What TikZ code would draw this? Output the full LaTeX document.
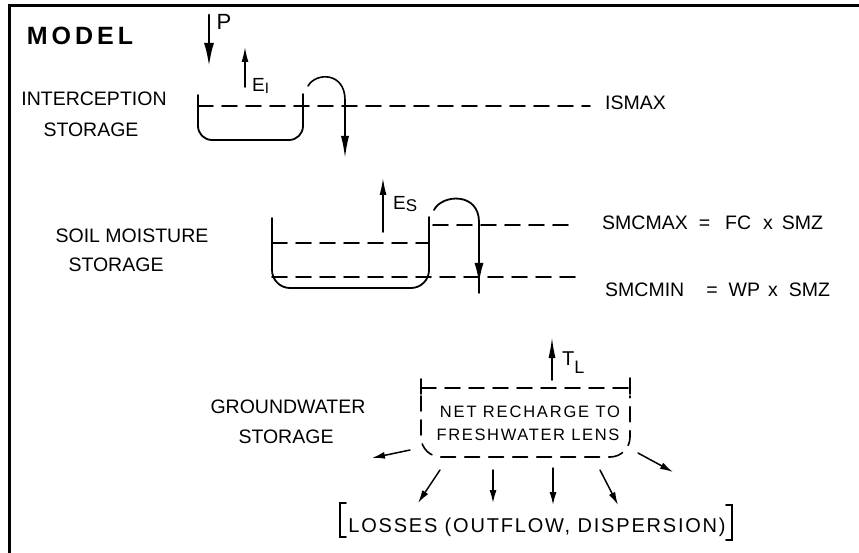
\documentclass[tikz,border=0pt]{standalone}
\usepackage{fontspec}
\setmainfont{Liberation Sans}
\usetikzlibrary{arrows.meta}

\tikzset{
  wall/.style={line width=1.8pt},
  level/.style={line width=1.6pt, dash pattern=on 15pt off 9pt},
  flow/.style={line width=1.6pt, -{Latex[length=15pt,width=7pt]}},
  loss/.style={line width=1.5pt, -{Latex[length=13pt,width=7pt]}},
  lab/.style={font=\fontsize{19.5}{22}\selectfont, inner sep=0pt, anchor=base},
  note/.style={lab, anchor=base west}
}

\begin{document}
\begin{tikzpicture}[x=1pt, y=-1pt, line cap=round, line join=round]
\useasboundingbox (0,0) rectangle (859,553);

% frame, top and left only
\draw[line width=3pt, line cap=butt, line join=miter] (859,6) -- (9.5,6) -- (9.5,553);

\node[lab, font=\fontsize{25}{28}\selectfont\bfseries\addfontfeature{LetterSpace=16}] (model) at (80,45) {MODEL};

% === Interception storage ===
\node[lab] (intA) at (94,106) {INTERCEPTION};
\node[lab] (intB) at (91,137) {STORAGE};

\coordinate (pIn) at (209,15);
\coordinate (pOut) at (209,67);
\draw[line width=2.8pt, -{Latex[length=24pt,width=10pt]}] (pIn) -- (pOut);
\node[lab, font=\fontsize{22}{24}\selectfont] (plab) at (224,30) {P};

\coordinate (eiFrom) at (245,87);
\coordinate (eiTo) at (245,47);
\draw[flow] (eiFrom) -- (eiTo);
\node[note, font=\fontsize{19}{22}\selectfont] (eilab) at (252,92) {E\raisebox{-2pt}{\fontsize{15}{15}\selectfont\rmfamily I}};

\draw[wall, rounded corners=14pt] (198,95) -- (198,140) -- (303,140) -- (303,94);
\draw[level] (198,106) -- (590,106);
\node[note] (ismax) at (605,110) {ISMAX};

% spill over the rim
\coordinate (spillA) at (308,86);
\coordinate (spillB) at (345,158);
\draw[flow, -{Latex[length=22pt,width=8pt]}] (spillA) .. controls (316,72) and (345,72) .. (345,100) -- (spillB);

% === Soil moisture storage ===
\node[lab] (soilA) at (132,243) {SOIL MOISTURE};
\node[lab] (soilB) at (116,272) {STORAGE};

\draw[wall, rounded corners=18pt] (272,218) -- (272,288) -- (429,288) -- (429,217);
\draw[level] (272,243) -- (429,243);
\draw[level] (433,225) -- (575,225);
\draw[level] (272,277) -- (582,277);

\coordinate (esFrom) at (383,232);
\coordinate (esTo) at (383,178);
\draw[flow, -{Latex[length=17pt,width=7pt]}] (esFrom) -- (esTo);
\node[note, font=\fontsize{19}{22}\selectfont] (eslab) at (393,210) {E\raisebox{-2pt}{\fontsize{17}{17}\selectfont S}};

\coordinate (dripA) at (434,210);
\coordinate (dripB) at (479,293);
\draw[wall] (dripA) .. controls (442,194) and (479,192) .. (479,222) -- (dripB);
\draw[wall, -{Latex[length=20pt,width=9pt]}] (479,250) -- (479,283);

\node[note] (smcmax) at (602,230)
  {SMCMAX\hspace{11pt}=\hspace{15pt}FC\hspace{12pt}x\hspace{9pt}SMZ};
\node[note] (smcmin) at (605,297)
  {SMCMIN\hspace{22pt}=\hspace{11pt}WP\hspace{8pt}x\hspace{11pt}SMZ};

% === Groundwater storage ===
\node[lab] (gwA) at (288,413) {GROUNDWATER};
\node[lab] (gwB) at (286,443) {STORAGE};

\draw[level, rounded corners=20pt] (421,396) -- (421,457) -- (630,457) -- (630,396);
\draw[level] (421,388) -- (630,388);
\draw[wall] (421,379) -- (421,394);
\draw[wall] (630,378) -- (630,394);

\node[lab, font=\fontsize{16.5}{19}\selectfont\addfontfeature{LetterSpace=11}] (lensA) at (530,417) {NET RECHARGE TO};
\node[lab, font=\fontsize{16.5}{19}\selectfont\addfontfeature{LetterSpace=10}] (lensB) at (528,440) {FRESHWATER LENS};

\coordinate (tlFrom) at (552,380);
\coordinate (tlTo) at (552,337);
\draw[flow, -{Latex[length=21pt,width=7pt]}] (tlFrom) -- (tlTo);
\node[note, font=\fontsize{20}{22}\selectfont] (tllab) at (562,365) {T\raisebox{-8pt}{\fontsize{18}{18}\selectfont L}};

% losses fanning out from the lens
\foreach \ax/\ay/\bx/\by [count=\i] in {410/450/372/458, 440/470/418/503, 493/470/493/503,
                                        553/468/553/505, 600/470/618/505, 638/453/673/472}{
  \coordinate (lossFrom\i) at (\ax,\ay);
  \coordinate (lossTo\i) at (\bx,\by);
  \draw[loss] (lossFrom\i) -- (lossTo\i);
}

\node[lab, font=\fontsize{20}{22}\selectfont\addfontfeature{LetterSpace=9}] (losses) at (537,532) {LOSSES (OUTFLOW, DISPERSION)};
\draw[wall, line join=miter] (346,503) -- (340,503) -- (340,537) -- (346,537);
\draw[wall, line join=miter] (726,505) -- (732,505) -- (732,540) -- (726,540);

\end{tikzpicture}
\end{document}
